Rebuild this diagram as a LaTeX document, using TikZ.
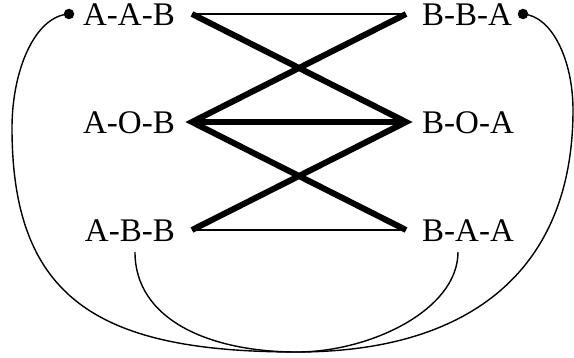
\documentclass[tikz,border=0pt]{standalone}
\usepackage{fontspec}
\setmainfont{Liberation Serif}
\begin{document}
\begin{tikzpicture}[x=1pt,y=-1pt,
  lbl/.style={inner sep=0pt,font=\fontsize{33}{36}\selectfont},
  thin/.style={line width=1.6pt},
  thick/.style={line width=6pt,line join=miter,miter limit=20},
  arc/.style={line width=1.4pt},
  dotmark/.style={circle,fill=black,inner sep=0pt,minimum size=10.5pt}]
\useasboundingbox (0,0) rectangle (574,358);
% labels
\node[lbl,anchor=base east] (aab) at (175,26) {A-A-B};
\node[lbl,anchor=base east] (aob) at (175,134) {A-O-B};
\node[lbl,anchor=base east] (abb) at (175,242) {A-B-B};
\node[lbl,anchor=base west] (bba) at (422,26) {B-B-A};
\node[lbl,anchor=base west] (boa) at (422,134) {B-O-A};
\node[lbl,anchor=base west] (baa) at (422,242) {B-A-A};
% line ends
\coordinate (l1) at (192,14);
\coordinate (l2) at (192,122);
\coordinate (l3) at (192,230);
\coordinate (r1) at (406,14);
\coordinate (r2) at (406,122);
\coordinate (r3) at (406,230);
% dots
\node[dotmark] (dl) at (69,14) {};
\node[dotmark] (dr) at (523,14) {};
% curve ends
\coordinate (bot) at (297,352);
\coordinate (abbS) at (135,252);
\coordinate (baaS) at (458,252);
% thin lines
\draw[thin] (l1) -- (r1);
\draw[thin] (l3) -- (r3);
% thick lines
\draw[thick] (l1) -- (r2) -- (l3);
\draw[thick] (r1) -- (l2) -- (r3);
\draw[thick] (l2) -- (r2);
% curves
\draw[arc] (dl.center) .. controls (35,16) and (12,70) .. (12,128)
  .. controls (12,300) and (100,352) .. (bot);
\draw[arc] (dr.center) .. controls (552,16) and (573,60) .. (573,110)
  .. controls (573,270) and (470,352) .. (bot);
\draw[arc] (abbS) .. controls (135,320) and (210,352) .. (bot);
\draw[arc] (baaS) .. controls (458,310) and (370,352) .. (bot);
\end{tikzpicture}
\end{document}
